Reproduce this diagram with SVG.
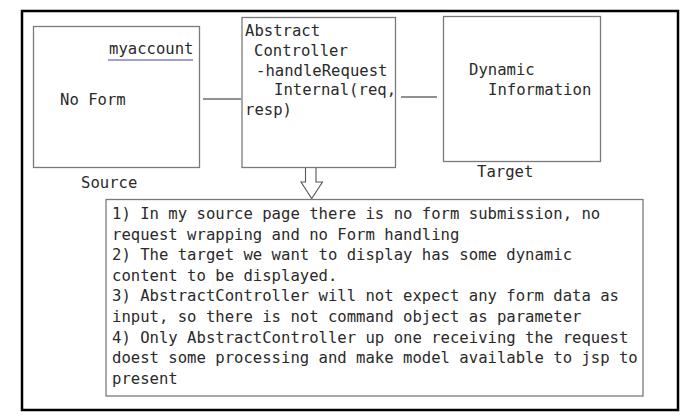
<svg xmlns="http://www.w3.org/2000/svg" width="696" height="419" viewBox="0 0 696 419">
<style>
.box{fill:#fff;stroke:#7a7a7a;stroke-width:1.3}
.t{font-family:"DejaVu Sans Mono","Liberation Mono",monospace;font-size:15.6px;fill:#2a2a2a}
.ln{stroke:#222;stroke-width:1.2;fill:none}
</style>
<rect x="0" y="0" width="696" height="419" fill="#fff"/>
<rect x="22" y="11" width="656" height="399" fill="#fff" stroke="#000" stroke-width="2.5"/>
<g id="connectors">
<line class="ln" x1="203" y1="99" x2="241" y2="99"/>
<line class="ln" x1="401" y1="97" x2="437" y2="97"/>
<path d="M305.5,167 L305.5,182 L301,182 L311.7,198.5 L322.5,182 L316,182 L316,167" fill="#fff" stroke="#555" stroke-width="1.1"/>
</g>
<g id="source">
<rect class="box" x="33.5" y="26.5" width="166" height="141"/>
<text class="t" x="109" y="54">myaccount</text>
<line x1="108" y1="60" x2="193" y2="60" stroke="#8080c8" stroke-width="1.3"/>
<text class="t" x="60" y="105">No Form</text>
<text class="t" x="81" y="188">Source</text>
</g>
<g id="controller">
<rect class="box" x="242" y="17.5" width="153.5" height="150"/>
<text class="t" x="245" y="36">Abstract</text>
<text class="t" x="254" y="56">Controller</text>
<text class="t" x="256" y="76">-handleRequest</text>
<text class="t" x="274" y="95">Internal(req,</text>
<text class="t" x="245" y="115">resp)</text>
</g>
<g id="target">
<rect class="box" x="443.5" y="16.5" width="157" height="145"/>
<text class="t" x="469" y="75">Dynamic</text>
<text class="t" x="488" y="95">Information</text>
<text class="t" x="477" y="177">Target</text>
</g>
<g id="notes">
<rect class="box" x="106" y="199.5" width="537" height="196.5"/>
<text class="t" x="112" y="219">1) In my source page there is no form submission, no</text>
<text class="t" x="112" y="239.6">request wrapping and no Form handling</text>
<text class="t" x="112" y="260.2">2) The target we want to display has some dynamic</text>
<text class="t" x="112" y="280.8">content to be displayed.</text>
<text class="t" x="112" y="301.4">3) AbstractController will not expect any form data as</text>
<text class="t" x="112" y="322">input, so there is not command object as parameter</text>
<text class="t" x="112" y="342.6">4) Only AbstractController up one receiving the request</text>
<text class="t" x="112" y="363.2">doest some processing and make model available to jsp to</text>
<text class="t" x="112" y="383.8">present</text>
</g>
</svg>
